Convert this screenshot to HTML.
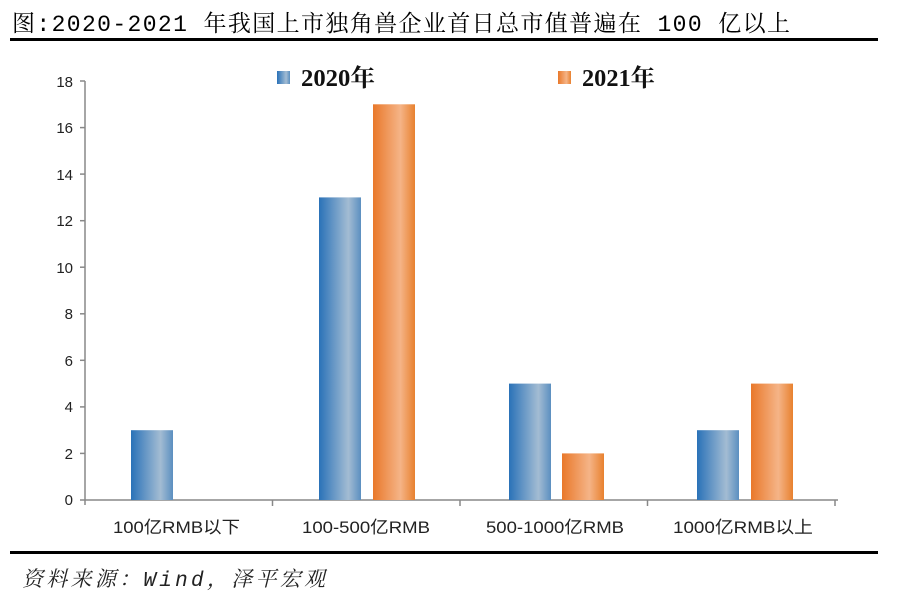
<!DOCTYPE html>
<html><head><meta charset="utf-8"><style>
html,body{margin:0;padding:0;background:#fff;}
svg{display:block;}
</style></head><body>
<svg width="897" height="601" viewBox="0 0 897 601" xmlns="http://www.w3.org/2000/svg">
<defs>
<linearGradient id="gb" x1="0" x2="1" y1="0" y2="0">
<stop offset="0" stop-color="#2a72b8"/><stop offset="0.7" stop-color="#a3bcd3"/><stop offset="1" stop-color="#5b8fc0"/>
</linearGradient>
<linearGradient id="go" x1="0" x2="1" y1="0" y2="0">
<stop offset="0" stop-color="#e9782a"/><stop offset="0.65" stop-color="#f5b487"/><stop offset="1" stop-color="#e8812f"/>
</linearGradient>
</defs>
<text x="12" y="31" font-family="'Liberation Mono','Noto Serif CJK SC',monospace" font-size="23" fill="#000" textLength="778" lengthAdjust="spacing">图:2020-2021 年我国上市独角兽企业首日总市值普遍在 100 亿以上</text>
<rect x="10" y="38" width="868" height="3" fill="#000"/>
<g font-family="'Liberation Sans','Noto Sans CJK SC',sans-serif" font-size="15" fill="#222" text-anchor="end">
<text x="73" y="505">0</text><text x="73" y="459">2</text><text x="73" y="412">4</text><text x="73" y="366">6</text><text x="73" y="319">8</text><text x="73" y="273">10</text><text x="73" y="226">12</text><text x="73" y="180">14</text><text x="73" y="133">16</text><text x="73" y="87">18</text>
</g>
<g stroke="#888" stroke-width="1.5">
<line x1="85" y1="81" x2="85" y2="505"/>
<line x1="80" y1="500" x2="838" y2="500"/>
<line x1="80" y1="453.4" x2="85" y2="453.4"/><line x1="80" y1="406.9" x2="85" y2="406.9"/><line x1="80" y1="360.3" x2="85" y2="360.3"/><line x1="80" y1="313.8" x2="85" y2="313.8"/><line x1="80" y1="267.2" x2="85" y2="267.2"/><line x1="80" y1="220.7" x2="85" y2="220.7"/><line x1="80" y1="174.1" x2="85" y2="174.1"/><line x1="80" y1="127.6" x2="85" y2="127.6"/><line x1="80" y1="81" x2="85" y2="81"/>
<line x1="272.5" y1="500" x2="272.5" y2="506"/><line x1="460" y1="500" x2="460" y2="506"/><line x1="647.5" y1="500" x2="647.5" y2="506"/><line x1="835" y1="500" x2="835" y2="506"/>
</g>
<rect x="131" y="430.2" width="42" height="69.8" fill="url(#gb)"/>
<rect x="319" y="197.4" width="42" height="302.6" fill="url(#gb)"/>
<rect x="373" y="104.3" width="42" height="395.7" fill="url(#go)"/>
<rect x="509" y="383.6" width="42" height="116.4" fill="url(#gb)"/>
<rect x="562" y="453.4" width="42" height="46.6" fill="url(#go)"/>
<rect x="697" y="430.2" width="42" height="69.8" fill="url(#gb)"/>
<rect x="751" y="383.6" width="42" height="116.4" fill="url(#go)"/>
<g font-family="'Liberation Sans','Noto Sans CJK SC',sans-serif" font-size="17" fill="#222">
<text x="113" y="533" textLength="127" lengthAdjust="spacingAndGlyphs">100亿RMB以下</text>
<text x="302" y="533" textLength="128" lengthAdjust="spacingAndGlyphs">100-500亿RMB</text>
<text x="486" y="533" textLength="138" lengthAdjust="spacingAndGlyphs">500-1000亿RMB</text>
<text x="673" y="533" textLength="140" lengthAdjust="spacingAndGlyphs">1000亿RMB以上</text>
</g>
<rect x="277" y="71" width="13" height="13" fill="url(#gb)"/>
<rect x="558" y="71" width="13" height="13" fill="url(#go)"/>
<g font-family="'Liberation Serif','Noto Serif CJK SC',serif" font-size="24" font-weight="bold" fill="#111">
<text x="301" y="86" textLength="74" lengthAdjust="spacingAndGlyphs">2020年</text><text x="582" y="86" textLength="73" lengthAdjust="spacingAndGlyphs">2021年</text>
</g>
<rect x="10" y="551" width="868" height="3" fill="#000"/>
<text x="22" y="586" font-family="'Liberation Mono','Noto Serif CJK SC',monospace" font-size="21" font-style="italic" fill="#222" textLength="303" lengthAdjust="spacing">资料来源：Wind，泽平宏观</text>
</svg>
</body></html>
